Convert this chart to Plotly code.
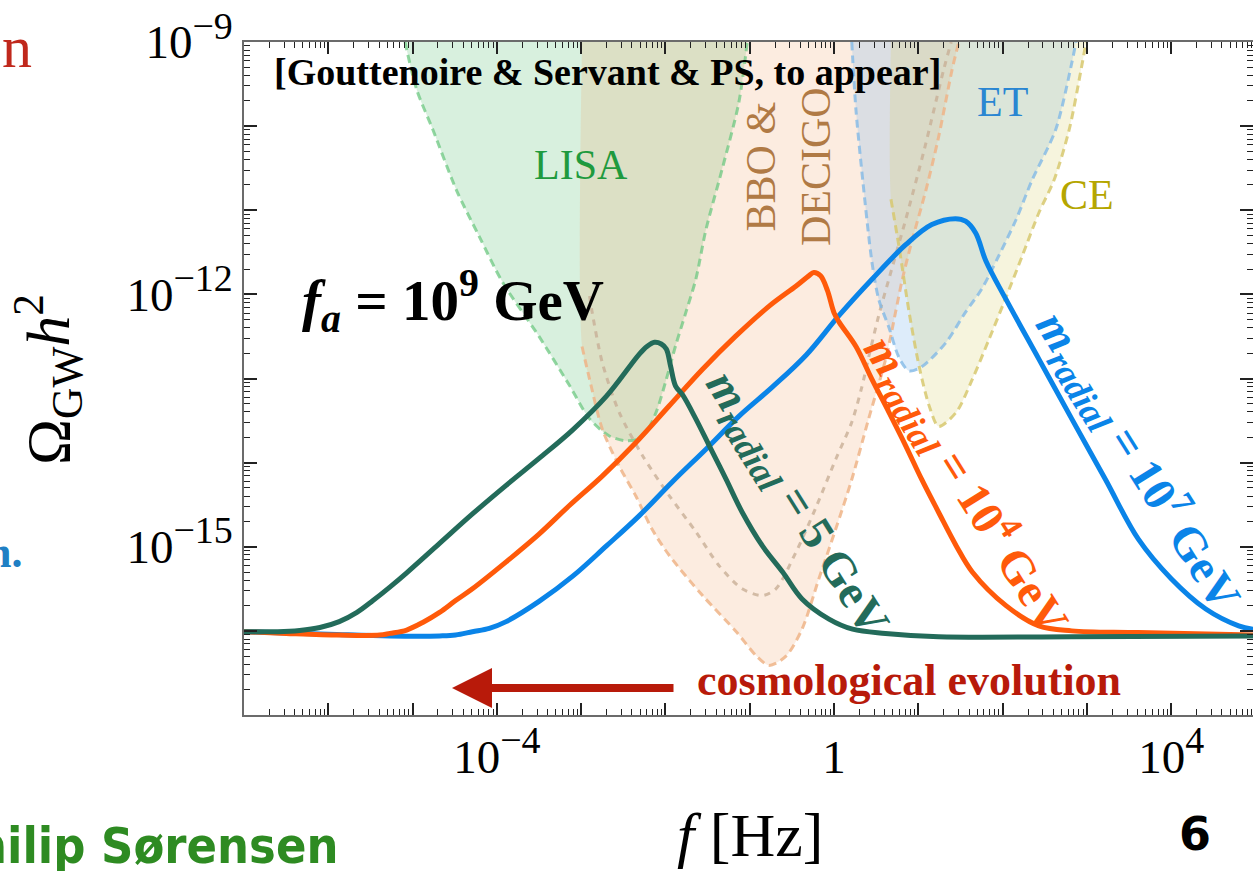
import numpy as np
import plotly.graph_objects as go

# ---------------- data (log10 f [Hz], log10 Omega_GW h^2) ----------------
teal_logf = [-7.0, -6.6, -6.34, -6.1, -5.87, -5.66, -5.47, -5.27, -5.07, -4.68, -4.29, -3.89, -3.50,
             -3.10, -2.70, -2.31, -2.22, -2.13, -2.05, -1.99, -1.94, -1.88, -1.80, -1.64, -1.48, -1.28,
             -1.09, -0.85, -0.61, -0.38, -0.06, 0.22, 0.61, 1.24, 2.82, 4.97]
teal_logO = [-16.01, -16.01, -15.995, -15.96, -15.89, -15.78, -15.64, -15.48, -15.31, -14.96, -14.61,
             -14.27, -13.95, -13.61, -13.21, -12.71, -12.62, -12.57, -12.59, -12.65, -12.85, -13.09,
             -13.19, -13.48, -13.80, -14.20, -14.59, -14.99, -15.30, -15.62, -15.86, -15.98, -16.03,
             -16.07, -16.07, -16.06]

orange_logf = [-7.0, -6.5, -5.87, -5.39, -5.27, -5.07, -4.88, -4.68, -4.49, -4.29, -3.89, -3.50, -3.14,
               -2.75, -2.35, -1.96, -1.56, -1.17, -0.77, -0.45, -0.30, -0.24, -0.16, -0.08, 0.0, 0.06,
               0.26, 0.45, 0.65, 0.85, 1.04, 1.24, 1.45, 1.64, 2.04, 2.43, 2.82, 3.61, 4.97]
orange_logO = [-16.01, -16.03, -16.05, -16.05, -16.03, -15.99, -15.90, -15.78, -15.64, -15.50, -15.18,
               -14.85, -14.51, -14.16, -13.76, -13.33, -12.89, -12.50, -12.14, -11.90, -11.78, -11.74,
               -11.78, -11.95, -12.22, -12.33, -12.62, -13.01, -13.40, -13.80, -14.20, -14.59, -14.99,
               -15.30, -15.70, -15.94, -16.0, -16.02, -16.05]

blue_logf = [-7.0, -6.0, -5.27, -4.68, -4.49, -4.29, -4.09, -3.89, -3.50, -3.10, -2.70, -2.31, -1.92,
             -1.52, -1.13, -0.73, -0.33, 0.06, 0.45, 0.85, 1.16, 1.44, 1.56, 1.68, 1.80, 2.04, 2.43,
             2.82, 3.22, 3.61, 4.00, 4.41, 4.80, 4.97]
blue_logO = [-16.01, -16.04, -16.06, -16.06, -16.05, -16.01, -15.97, -15.89, -15.65, -15.35, -14.99,
             -14.63, -14.23, -13.84, -13.45, -13.10, -12.72, -12.25, -11.82, -11.41, -11.17, -11.10,
             -11.13, -11.27, -11.60, -12.06, -12.77, -13.48, -14.20, -14.91, -15.38, -15.74, -15.94,
             -15.98]

lisa_logf = [-5.09, -4.95, -4.76, -4.48, -4.21, -3.93, -3.50, -3.14, -2.90, -2.67, -2.47, -2.33, -2.23,
             -2.11, -1.99, -1.88, -1.76, -1.64, -1.52, -1.33, -1.13, -1.03]
lisa_logO = [-9.0, -9.57, -10.04, -10.76, -11.31, -11.86, -12.50, -13.08, -13.48, -13.68, -13.74, -13.72,
             -13.64, -13.40, -13.01, -12.61, -12.22, -11.82, -11.23, -10.52, -9.72, -9.0]

bbo_logf = [-2.99, -2.99, -2.90, -2.75, -2.55, -2.35, -2.16, -1.95, -1.56, -1.16, -0.92, -0.77, -0.57,
            -0.38, -0.18, 0.02, 0.21, 0.41, 0.62, 0.73, 0.81, 0.92, 1.09, 1.24, 1.40, 1.48]
bbo_logO = [-9.0, -12.62, -13.01, -13.60, -14.04, -14.40, -14.79, -15.11, -15.58, -16.01, -16.30, -16.41,
            -16.30, -15.98, -15.38, -14.79, -14.20, -13.48, -12.74, -12.21, -11.82, -11.38, -10.76,
            -10.13, -9.33, -9.0]

decigo_logf = [-2.90, -2.87, -2.75, -2.55, -2.27, -1.95, -1.64, -1.36, -1.09, -0.85, -0.69, -0.45, -0.21,
               0.02, 0.21, 0.33, 0.41, 0.53, 0.65, 0.85, 1.07, 1.30, 1.39]
decigo_logO = [-12.02, -12.21, -12.81, -13.40, -13.92, -14.40, -14.82, -15.23, -15.50, -15.58, -15.50,
               -15.06, -14.52, -13.96, -13.52, -13.10, -12.75, -12.25, -11.82, -11.11, -10.28, -9.33, -9.0]

et_logf = [0.21, 0.26, 0.34, 0.45, 0.53, 0.65, 0.77, 0.89, 1.04, 1.33, 1.56, 1.75, 1.95, 2.16, 2.35,
           2.63, 2.82, 2.87]
et_logO = [-9.0, -9.81, -10.64, -11.62, -12.06, -12.39, -12.75, -12.91, -12.86, -12.57, -12.21, -11.94,
           -11.55, -11.11, -10.64, -10.04, -9.25, -9.0]

ce_logf = [0.675, 0.675, 0.77, 0.89, 1.01, 1.13, 1.24, 1.45, 1.64, 1.84, 2.03, 2.23, 2.43, 2.61, 2.79,
           2.93, 2.99]
ce_logO = [-9.0, -10.87, -11.43, -12.21, -12.86, -13.33, -13.57, -13.40, -13.01, -12.53, -12.06, -11.55,
           -11.03, -10.64, -10.04, -9.33, -9.0]

SUP = "<sup><span style='font-size:38px'>{}</span></sup>"
x_major_exp = list(range(-7, 6))
x_label_exp = {-4: "10" + SUP.format("−4"), 0: "1", 4: "10" + SUP.format("4")}
y_major_exp = list(range(-17, -8))
y_label_exp = {-9: "10" + SUP.format("−9"), -12: "10" + SUP.format("−12"), -15: "10" + SUP.format("−15")}

# ---------------- layout geometry ----------------
W, H = 1253, 871
ML, MR, MT, MB = 244, 0, 42, 156
XR = [-7.0, 4.97]
YR = [-17.0, -9.0]


def pxx(xp):
    return (xp - ML) / (W - ML - MR)


def pyy(yp):
    return (H - MB - yp) / (H - MT - MB)


def pw(a):
    return [10.0 ** v for v in a]


SERIF = "Liberation Serif, Times New Roman, serif"

fig = go.Figure()


def region(lf, lo, fillcol):
    fig.add_trace(go.Scatter(x=pw(lf), y=pw(lo), mode="lines", fill="toself", fillcolor=fillcol,
                             line=dict(width=0, shape="spline", smoothing=0.8), hoverinfo="skip",
                             showlegend=False))


def outline(lf, lo, col, dash, width=3):
    fig.add_trace(go.Scatter(x=pw(lf), y=pw(lo), mode="lines",
                             line=dict(color=col, width=width, dash=dash, shape="spline", smoothing=0.8),
                             hoverinfo="skip", showlegend=False))


region(lisa_logf, lisa_logO, "rgba(100,195,125,0.25)")
region(bbo_logf, bbo_logO, "rgba(240,160,100,0.20)")
region(et_logf, et_logO, "rgba(120,180,235,0.25)")
region(ce_logf, ce_logO, "rgba(215,205,100,0.22)")

outline(lisa_logf, lisa_logO, "rgba(110,200,130,0.75)", "8px,5px")
outline(bbo_logf[1:], bbo_logO[1:], "rgba(238,180,135,0.85)", "8px,5px")
outline(decigo_logf, decigo_logO, "rgba(200,175,150,0.8)", "6px,6px")
outline(et_logf, et_logO, "rgba(130,185,230,0.8)", "8px,5px")
outline(ce_logf[1:], ce_logO[1:], "rgba(215,200,110,0.85)", "8px,5px")


def curve(lf, lo, col):
    fig.add_trace(go.Scatter(x=pw(lf), y=pw(lo), mode="lines",
                             line=dict(color=col, width=5, shape="spline", smoothing=1.0),
                             hoverinfo="skip", showlegend=False))


curve(blue_logf, blue_logO, "#0a84e8")
curve(orange_logf, orange_logO, "#ff5a0a")
curve(teal_logf, teal_logO, "#236b5a")

ann = []


def txt(text, x, y, size, color="black", angle=0, xanchor="center", yanchor="middle", family=SERIF):
    ann.append(dict(text=text, x=x, y=y, xref="paper", yref="paper", showarrow=False, textangle=angle,
                    xanchor=xanchor, yanchor=yanchor, font=dict(family=family, size=size, color=color)))


# detector labels
txt("LISA", pxx(581), pyy(165), 42, "#1f9a3e")
txt("BBO &amp;<br>DECIGO", pxx(788), pyy(167), 42, "#b07a45", angle=-90)
txt("ET", pxx(1002), pyy(102), 42, "#2a86d2")
txt("CE", pxx(1087), pyy(195), 42, "#b5a600")

txt("<b>[Gouttenoire &amp; Servant &amp; PS, to appear]</b>", pxx(607), pyy(72), 38)
txt("<b><i>f</i><sub><i>a</i></sub> = 10<sup>9</sup> GeV</b>", pxx(453), pyy(300), 57)

MSUB = "<sub><span style='font-size:36px'><i>radial</i></span></sub>"
txt("<b><i>m</i>" + MSUB + " = 5 GeV</b>", pxx(795), pyy(505), 47, "#236b5a", angle=58)
txt("<b><i>m</i>" + MSUB + " = 10<sup>4</sup> GeV</b>", pxx(966), pyy(484), 47, "#ff5a0a", angle=58)
txt("<b><i>m</i>" + MSUB + " = 10<sup>7</sup> GeV</b>", pxx(1138), pyy(460), 47, "#0a84e8", angle=58)

txt("<b>cosmological evolution</b>", pxx(909), pyy(680), 44, "#b81a0a")
ann.append(dict(x=pxx(452), y=pyy(688), xref="paper", yref="paper", ax=223, ay=0, text="",
                showarrow=True, arrowhead=2, arrowsize=1.0, arrowwidth=8, arrowcolor="#b81a0a",
                standoff=0))

# axis titles
txt("Ω<sub>GW</sub><i>h</i><sup>2</sup>", pxx(47), pyy(380), 62, angle=-90)
txt("<i>f</i> [Hz]", pxx(750), pyy(835), 62)

# slide fragments around the chart
txt("n", pxx(34), pyy(47), 60, "#c0281c", xanchor="right")
txt("<b>n.</b>", pxx(24), pyy(552), 44, "#1f7fc4", xanchor="right")
txt("<b>Philip Sørensen</b>", pxx(340), pyy(846), 50, "#2e8b22", xanchor="right",
    family="DejaVu Sans Condensed, DejaVu Sans, sans-serif")
txt("<b>6</b>", pxx(1195), pyy(834), 46, "black", family="DejaVu Sans, sans-serif")

axis_common = dict(type="log", showline=True, linecolor="#6b6b6b", linewidth=1.5, mirror="allticks",
                   ticks="inside", tickwidth=1.5, tickcolor="#222", showgrid=False, zeroline=False,
                   automargin=False,
                   tickfont=dict(family=SERIF, size=47, color="black"),
                   minor=dict(ticks="inside", ticklen=6, tickwidth=1.2, tickcolor="#222", dtick="D1",
                              showgrid=False))

fig.update_layout(
    width=W, height=H, margin=dict(l=ML, r=MR, t=MT, b=MB, pad=0, autoexpand=False),
    paper_bgcolor="white", plot_bgcolor="white", showlegend=False,
    xaxis=dict(axis_common, range=XR, ticklen=12,
               tickvals=[10.0 ** k for k in x_major_exp],
               ticktext=[x_label_exp.get(k, "") for k in x_major_exp]),
    yaxis=dict(axis_common, range=YR, ticklen=13,
               tickvals=[10.0 ** k for k in y_major_exp],
               ticktext=[y_label_exp.get(k, "") for k in y_major_exp]),
    annotations=ann,
)

fig.write_html("out.html", config={"displayModeBar": False},
               post_script="document.body.style.margin='0';")
